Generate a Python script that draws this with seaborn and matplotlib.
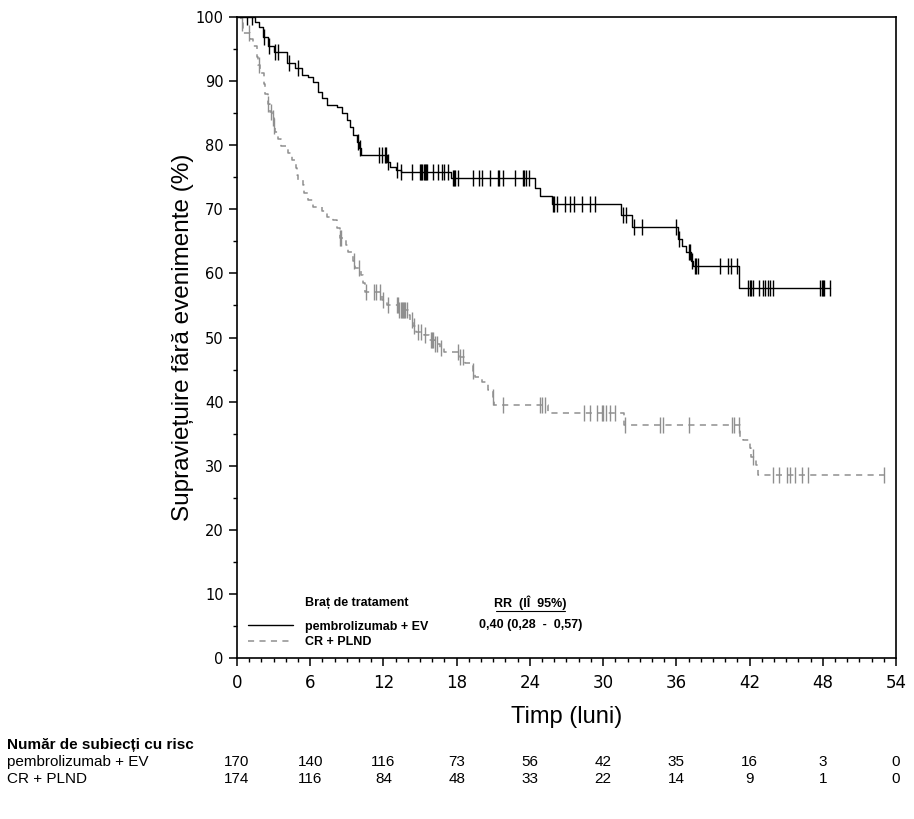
import numpy as np
import pandas as pd
import matplotlib
matplotlib.use("Agg")
import matplotlib.pyplot as plt
from matplotlib import font_manager
from matplotlib.ticker import MultipleLocator
from matplotlib.transforms import blended_transform_factory
import seaborn as sns

# ---------------------------------------------------------------------
# Data (months, % event-free survival)
# ---------------------------------------------------------------------
times_pe = [0, 1.5, 1.8, 2.1, 2.5, 3.0, 4.1, 4.75, 5.3, 5.8, 6.2, 6.6, 7.0, 7.4, 8.2,
            8.6, 9.0, 9.3, 9.5, 9.8, 10.0, 10.2, 12.3, 12.5, 13.0, 13.4, 17.5, 24.4,
            24.8, 25.8, 31.5, 32.4, 36.1, 36.5, 36.8, 37.2, 37.4, 41.1, 48.6]
surv_pe = [100, 99.2, 98.4, 96.9, 95.5, 94.5, 92.8, 92.0, 91.0, 90.6, 89.9, 88.3, 87.3,
           86.3, 86.0, 85.0, 83.9, 82.8, 81.6, 80.5, 79.5, 78.5, 77.4, 76.6, 76.2, 75.8,
           74.9, 73.3, 72.1, 70.8, 69.1, 67.2, 65.4, 64.3, 63.3, 62.0, 61.2, 57.7, 57.7]
cens_pe = [0.8, 1.2, 2.2, 2.6, 3.1, 3.4, 4.3, 5.0, 9.9, 10.1, 11.6, 11.9, 12.1, 12.2,
           12.4, 13.1, 13.4, 14.3, 15.0, 15.1, 15.2, 15.3, 15.4, 15.5, 15.6, 16.1, 16.5,
           16.8, 17.0, 17.3, 17.7, 17.8, 17.9, 18.1, 19.3, 19.8, 20.1, 20.7, 21.4, 21.5,
           21.8, 22.8, 23.4, 23.5, 23.7, 23.9, 25.9, 26.0, 26.2, 26.9, 27.3, 27.6, 28.3,
           28.9, 29.3, 31.6, 31.9, 32.5, 33.2, 36.0, 36.2, 37.0, 37.1, 37.3, 37.5, 37.6,
           37.8, 39.6, 40.2, 40.5, 41.0, 41.9, 42.0, 42.1, 42.3, 42.8, 43.1, 43.3, 43.5,
           43.7, 43.9, 47.8, 47.9, 48.0, 48.1, 48.6]

times_cr = [0, 0.3, 0.5, 1.1, 1.3, 1.6, 1.75, 1.9, 2.2, 2.3, 2.5, 2.7, 2.9, 3.0, 3.1,
            3.4, 3.6, 4.2, 4.5, 4.8, 4.9, 5.0, 5.4, 5.5, 5.8, 6.2, 7.0, 7.4, 7.9, 8.2,
            8.4, 8.9, 9.1, 9.5, 9.7, 10.2, 10.3, 10.5, 11.9, 12.3, 13.3, 14.0, 14.2, 14.4,
            14.7, 15.3, 15.7, 16.2, 16.6, 17.0, 18.3, 18.7, 19.3, 19.5, 20.1, 20.6, 21.0,
            21.1, 25.5, 31.7, 41.2, 41.5, 42.0, 42.1, 42.5, 42.7, 53.0]
surv_cr = [100, 99.0, 97.5, 96.5, 95.5, 93.8, 92.5, 91.2, 89.5, 88.0, 86.5, 85.2, 84.2,
           83.0, 82.0, 81.0, 79.9, 78.8, 77.7, 76.4, 75.3, 74.6, 73.8, 72.5, 71.4, 70.4,
           69.8, 68.8, 68.3, 67.1, 65.6, 64.4, 63.3, 62.0, 60.8, 59.7, 58.5, 57.1, 55.8,
           55.0, 54.3, 53.5, 52.7, 51.8, 50.9, 50.4, 49.6, 49.0, 48.3, 47.7, 47.0, 46.0,
           44.8, 43.8, 43.0, 41.8, 40.7, 39.5, 38.2, 36.3, 34.5, 34.0, 32.8, 31.4, 30.1,
           28.5, 28.5]
cens_cr = [0.4, 1.0, 1.8, 2.5, 2.8, 2.95, 3.0, 8.4, 8.5, 9.6, 10.0, 10.6, 11.2, 11.4,
           11.7, 12.0, 12.4, 13.1, 13.2, 13.3, 13.4, 13.5, 13.6, 13.7, 13.8, 13.9, 14.3,
           14.5, 14.8, 15.1, 15.4, 15.9, 16.0, 16.1, 16.2, 16.4, 16.7, 18.1, 18.3, 18.5,
           19.3, 21.0, 21.8, 24.8, 25.0, 25.2, 28.4, 28.9, 29.5, 29.9, 30.0, 30.2, 30.6,
           31.0, 31.8, 34.7, 34.9, 37.0, 40.6, 40.7, 41.1, 42.3, 43.9, 44.4, 45.1, 45.3,
           45.7, 46.3, 46.8, 53.0]

risk_times = [0, 6, 12, 18, 24, 30, 36, 42, 48, 54]
risk_pe = [170, 140, 116, 73, 56, 42, 35, 16, 3, 0]
risk_cr = [174, 116, 84, 48, 33, 22, 14, 9, 1, 0]

label_pe = "pembrolizumab + EV"
label_cr = "CR + PLND"
COLOR_PE = "black"
COLOR_CR = "#8f8f8f"


def step_value(times, surv, t):
    """Survival value of a step curve at time t (right-continuous)."""
    idx = np.searchsorted(times, t, side="right") - 1
    return np.asarray(surv)[idx]


# ---------------------------------------------------------------------
# Styling
# ---------------------------------------------------------------------
sns.set_theme(style="ticks")
names = {f.name for f in font_manager.fontManager.ttflist}
NARROW = "Liberation Sans Narrow" if "Liberation Sans Narrow" in names else "Liberation Sans"
plt.rcParams["font.family"] = ["DejaVu Sans"]
for key in ["text.color", "axes.labelcolor", "xtick.color", "ytick.color", "axes.edgecolor"]:
    plt.rcParams[key] = "black"

fig = plt.figure(figsize=(9.14, 8.19), dpi=100)
ax = fig.add_axes([0.2593, 0.1966, 0.7210, 0.7826])

curves = pd.concat([
    pd.DataFrame({"t": times_pe, "s": surv_pe, "arm": label_pe}),
    pd.DataFrame({"t": times_cr, "s": surv_cr, "arm": label_cr}),
])
censors = pd.concat([
    pd.DataFrame({"t": cens_pe, "s": step_value(times_pe, surv_pe, cens_pe), "arm": label_pe}),
    pd.DataFrame({"t": cens_cr, "s": step_value(times_cr, surv_cr, cens_cr), "arm": label_cr}),
])

sns.lineplot(data=curves[curves.arm == label_cr], x="t", y="s", color=COLOR_CR,
             drawstyle="steps-post", estimator=None, sort=False, linewidth=1.1,
             linestyle=(0, (4, 3.5)), ax=ax)
sns.scatterplot(data=censors[censors.arm == label_cr], x="t", y="s", color=COLOR_CR,
                marker="|", s=130, linewidth=1.0, ax=ax)
sns.lineplot(data=curves[curves.arm == label_pe], x="t", y="s", color=COLOR_PE,
             drawstyle="steps-post", estimator=None, sort=False, linewidth=1.0, ax=ax)
sns.scatterplot(data=censors[censors.arm == label_pe], x="t", y="s", color=COLOR_PE,
                marker="|", s=130, linewidth=1.0, ax=ax)

ax.set_xlim(0, 54)
ax.set_ylim(0, 100)
ax.xaxis.set_major_locator(MultipleLocator(6))
ax.xaxis.set_minor_locator(MultipleLocator(1))
ax.yaxis.set_major_locator(MultipleLocator(10))
ax.yaxis.set_minor_locator(MultipleLocator(5))
ax.tick_params(axis="both", which="major", length=5.5, width=1.1, color="black")
ax.tick_params(axis="both", which="minor", length=2.8, width=1.0, color="black")
ax.tick_params(axis="x", which="major", labelsize=12, pad=6)
ax.tick_params(axis="y", which="major", labelsize=10.5, pad=4)
for sp in ax.spines.values():
    sp.set_visible(True)
    sp.set_color("black")
    sp.set_linewidth(1.2)

ax.set_xlabel("Timp (luni)", fontsize=17, family=["Liberation Sans", "DejaVu Sans"])
ax.set_ylabel("Supraviețuire fără evenimente (%)", fontsize=17.5,
              family=["Liberation Sans", "DejaVu Sans"])
ax.xaxis.set_label_coords(0.5, -0.075)
ax.yaxis.set_label_coords(-0.066, 0.5)

# legend block inside the axes
leg_font = {"family": [NARROW, "DejaVu Sans"], "weight": "bold", "size": 9}
handles = [ax.lines[1], ax.lines[0]]
leg = ax.legend(handles, [label_pe, label_cr], loc="lower left",
                bbox_to_anchor=(0.004, 0.002), frameon=False, prop=leg_font,
                handlelength=3.6, handletextpad=0.9, labelspacing=0.25, borderpad=0.2)
ax.text(0.103, 0.0855, "Braț de tratament", transform=ax.transAxes, ha="left",
        va="center", fontdict=leg_font)
ax.text(0.445, 0.0855, "RR  (IÎ  95%)", transform=ax.transAxes, ha="center",
        va="center", fontdict=leg_font)
ax.plot([0.393, 0.497], [0.0735, 0.0735], transform=ax.transAxes, color="black", lw=0.8)
ax.text(0.445, 0.0515, "0,40 (0,28  -  0,57)", transform=ax.transAxes, ha="center",
        va="center", fontdict=leg_font)

# number-at-risk table below the plot
tab_font = {"family": [NARROW, "DejaVu Sans"], "size": 11}
trans = blended_transform_factory(ax.transData, fig.transFigure)
fig.text(0.008, 0.0903, "Număr de subiecți cu risc", ha="left", va="center",
         fontdict={**tab_font, "weight": "bold"})
fig.text(0.008, 0.0696, label_pe, ha="left", va="center", fontdict=tab_font)
fig.text(0.008, 0.0488, label_cr, ha="left", va="center", fontdict=tab_font)
for t, n1, n2 in zip(risk_times, risk_pe, risk_cr):
    ax.text(t, 0.0696, str(n1), transform=trans, ha="center", va="center",
            fontdict=tab_font, clip_on=False)
    ax.text(t, 0.0488, str(n2), transform=trans, ha="center", va="center",
            fontdict=tab_font, clip_on=False)

fig.savefig("out.png", dpi=100, facecolor="white")
